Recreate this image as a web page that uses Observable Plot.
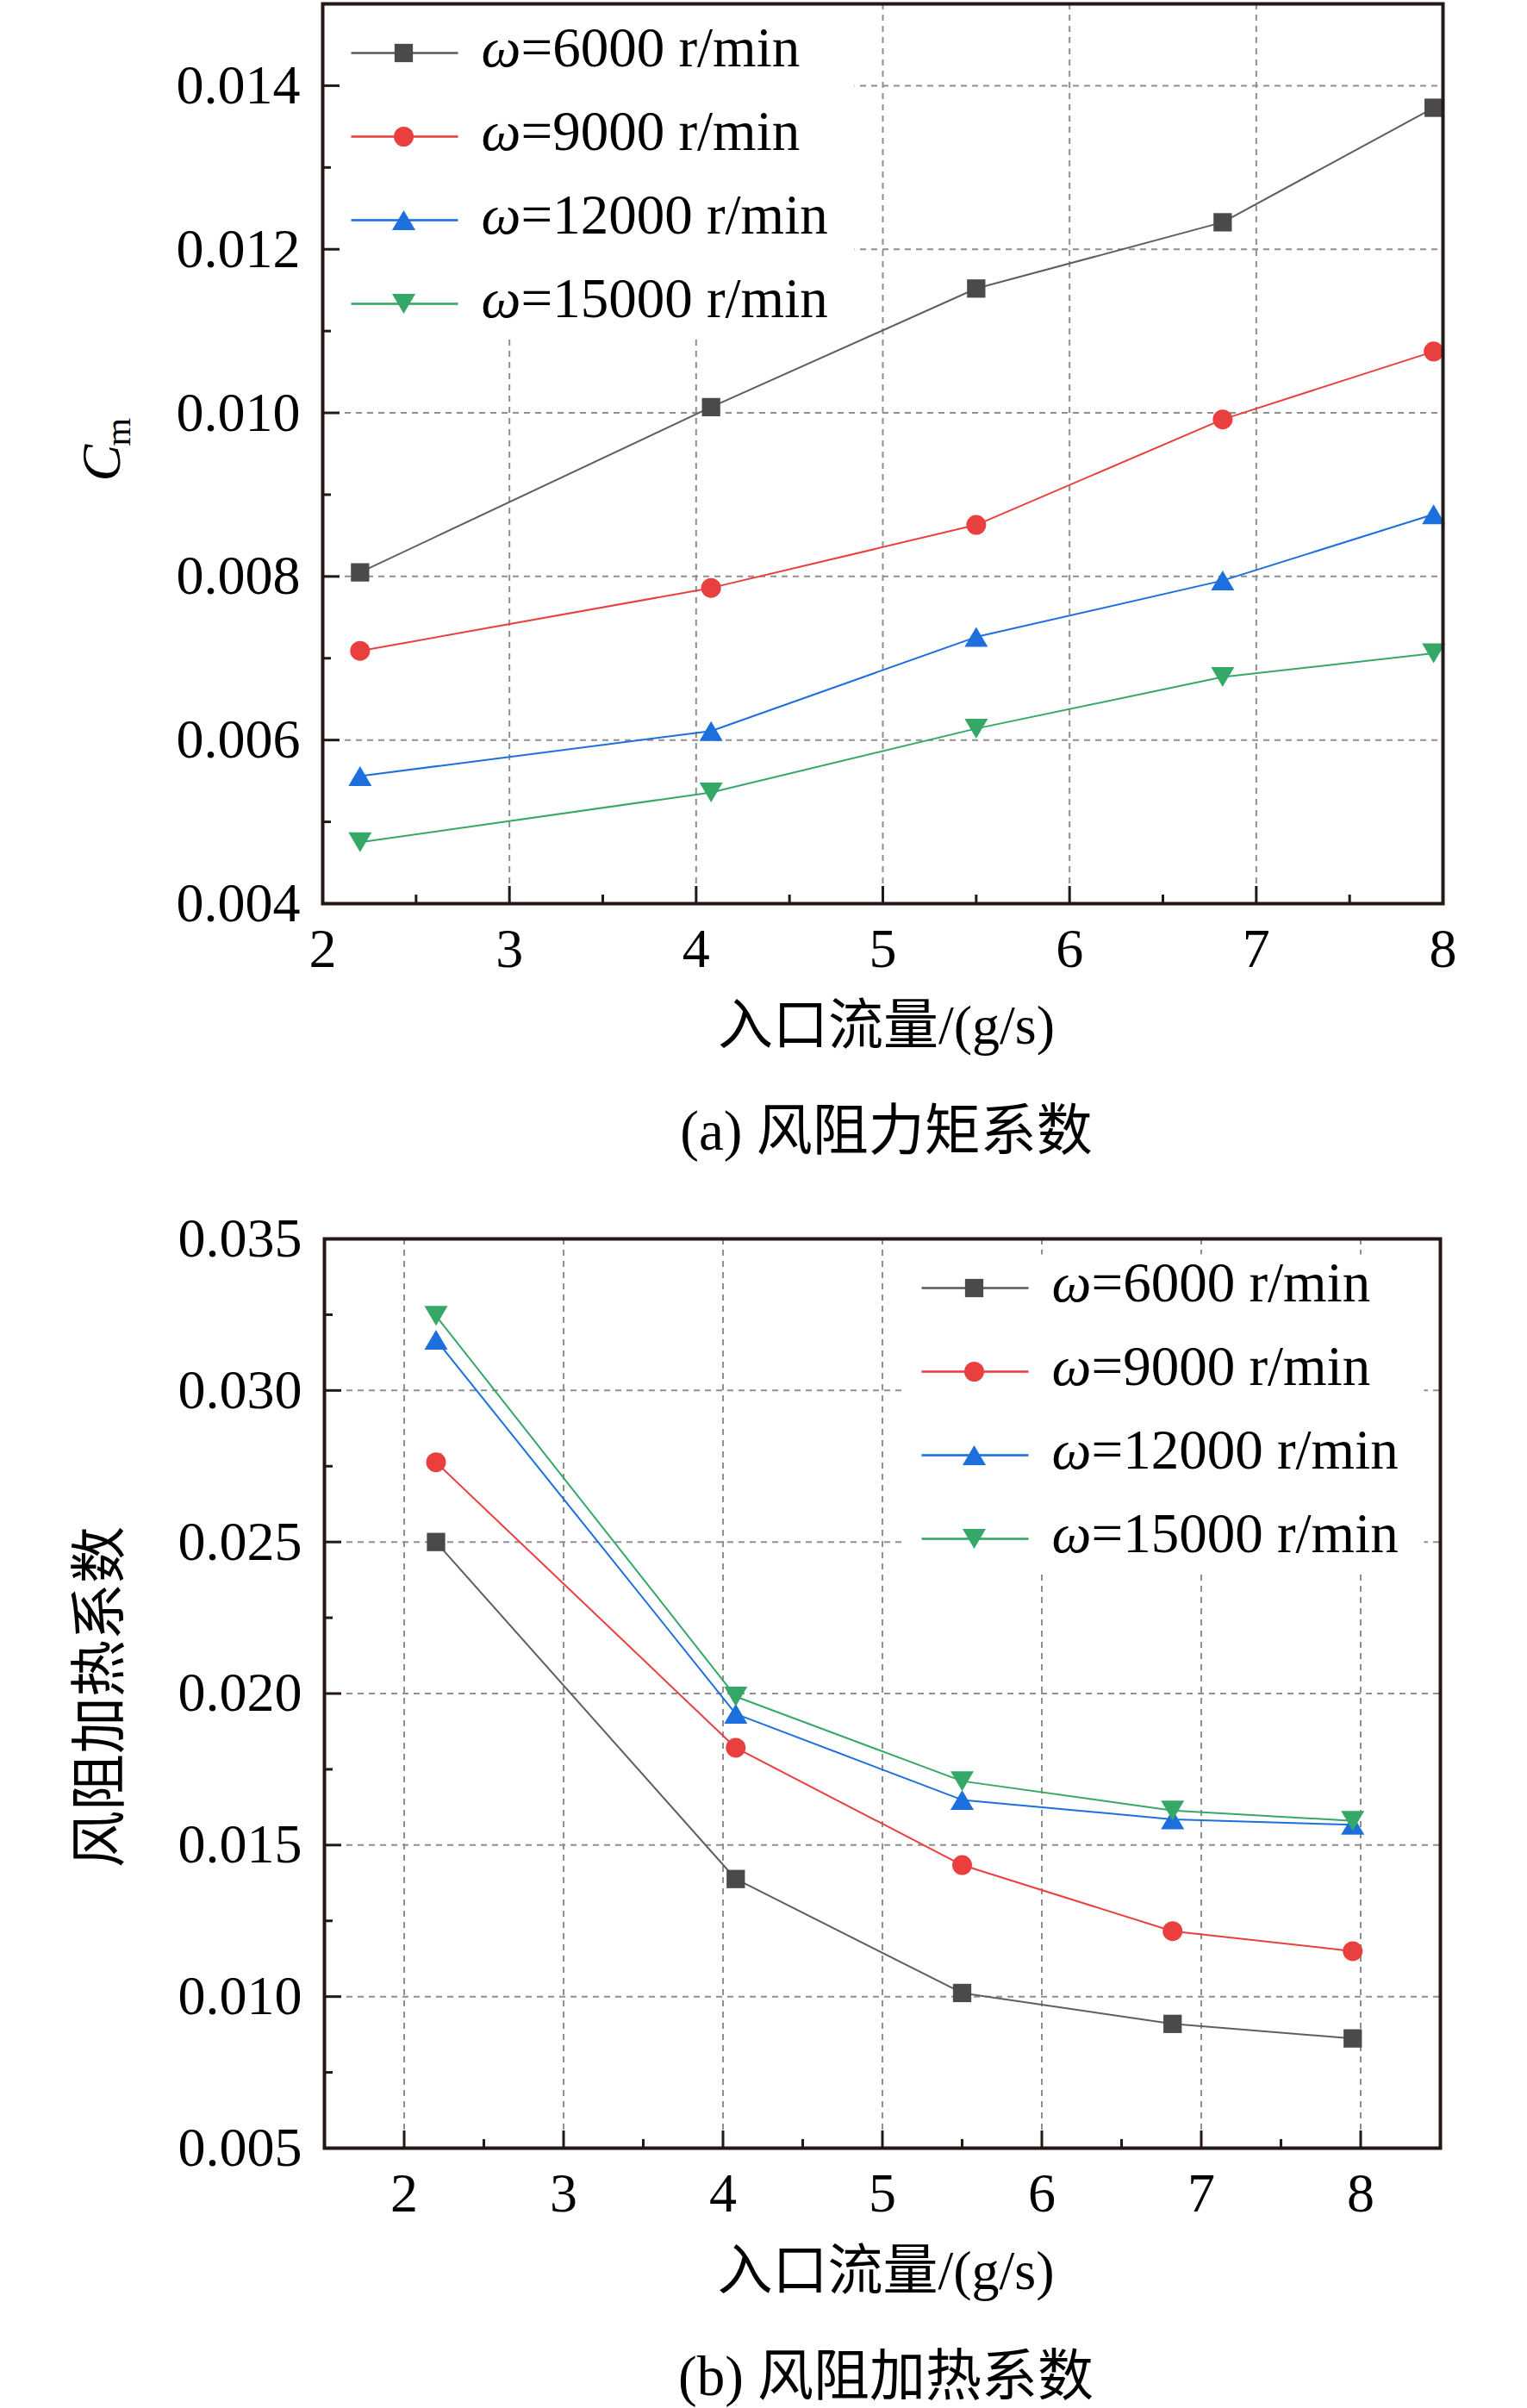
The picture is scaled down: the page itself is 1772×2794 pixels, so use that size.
<!DOCTYPE html>
<html>
<head>
<meta charset="utf-8">
<script src="https://cdn.jsdelivr.net/npm/d3@7"></script>
<script src="https://cdn.jsdelivr.net/npm/@observablehq/plot@0.6"></script>
<style>
  html, body { margin: 0; padding: 0; background: #fff; }
  #chart svg { display: block; }
</style>
</head>
<body>
<div id="chart"></div>
<script>
// ---------------- data ----------------
const flow = [2.2, 4.08, 5.5, 6.82, 7.95];           // 入口流量 (g/s)
const speeds = ["6000", "9000", "12000", "15000"];    // ω (r/min)

// (a) 风阻力矩系数 Cm
const cm6000  = [0.00805, 0.01007, 0.01152, 0.01233, 0.01373];
const cm9000  = [0.00709, 0.00786, 0.00863, 0.00992, 0.01075];
const cm12000 = [0.00556, 0.00611, 0.00726, 0.00795, 0.00876];
const cm15000 = [0.00475, 0.00536, 0.00614, 0.00677, 0.00706];

// (b) 风阻加热系数
const heat6000  = [0.0250, 0.01388, 0.01012, 0.00910, 0.00862];
const heat9000  = [0.02763, 0.01821, 0.01434, 0.01216, 0.01150];
const heat12000 = [0.03167, 0.01933, 0.01649, 0.01585, 0.01567];
const heat15000 = [0.03246, 0.01990, 0.01711, 0.01614, 0.01580];

// tick values
const xTicksA = [2, 3, 4, 5, 6, 7, 8];
const xMinorA = [2.5, 3.5, 4.5, 5.5, 6.5, 7.5];
const yTicksA = [0.004, 0.006, 0.008, 0.010, 0.012, 0.014];
const yMinorA = [0.005, 0.007, 0.009, 0.011, 0.013];
const xGridA = [3, 4, 5, 6, 7];
const yGridA = [0.006, 0.008, 0.010, 0.012, 0.014];

const xTicksB = [2, 3, 4, 5, 6, 7, 8];
const xMinorB = [2.5, 3.5, 4.5, 5.5, 6.5, 7.5];
const yTicksB = [0.005, 0.010, 0.015, 0.020, 0.025, 0.030, 0.035];
const yMinorB = [0.0075, 0.0125, 0.0175, 0.0225, 0.0275, 0.0325];
const xGridB = [2, 3, 4, 5, 6, 7, 8];
const yGridB = [0.010, 0.015, 0.020, 0.025, 0.030];

// ---------------- styles ----------------
const FONT = "'Liberation Serif','Times New Roman','Noto Sans CJK SC',serif";
const colors = ["#4a4a4a", "#e9403f", "#1c6fdd", "#35a867"];
const lineColors = ["#5e5e5e", "#e9403f", "#1c6fdd", "#35a867"];
const AXIS = "#231815";
const GRID = "#8f8f8f";

function triSymbol(up) {
  return {
    draw(ctx, size) {
      const s = Math.sqrt(size / Math.PI);
      const w = 1.35 * s, h = 1.15 * s;
      if (up) {
        ctx.moveTo(0, -h); ctx.lineTo(w, h); ctx.lineTo(-w, h);
      } else {
        ctx.moveTo(0, h); ctx.lineTo(w, -h); ctx.lineTo(-w, -h);
      }
      ctx.closePath();
    }
  };
}
const symbols = ["square", "circle", triSymbol(true), triSymbol(false)];
const radii = [12, 11.5, 10, 10];

function rowsOf(values) {
  return flow.map((f, j) => ({flow: f, value: values[j]}));
}

function panel(o) {
  const innerW = o.width - o.ml - o.mr;
  const innerH = o.height - o.mt - o.mb;
  const marks = [];
  // grid
  marks.push(Plot.ruleX(o.xGrid, {x: d => d, stroke: GRID, strokeWidth: 2, strokeDasharray: "7,6"}));
  marks.push(Plot.ruleY(o.yGrid, {y: d => d, stroke: GRID, strokeWidth: 2, strokeDasharray: "7,6"}));
  // legend background
  marks.push(Plot.frame({fill: "white", stroke: "none",
    insetLeft: o.box[0], insetRight: innerW - o.box[1],
    insetTop: o.box[2], insetBottom: innerH - o.box[3]}));
  // inward ticks
  marks.push(Plot.ruleX(o.xTicks, {x: d => d, insetTop: innerH - 20, stroke: AXIS, strokeWidth: 3}));
  marks.push(Plot.ruleX(o.xMinor, {x: d => d, insetTop: innerH - 10, stroke: AXIS, strokeWidth: 3}));
  marks.push(Plot.ruleY(o.yTicks, {y: d => d, insetRight: innerW - 20, stroke: AXIS, strokeWidth: 3}));
  marks.push(Plot.ruleY(o.yMinor, {y: d => d, insetRight: innerW - 10, stroke: AXIS, strokeWidth: 3}));
  // data
  o.series.forEach((vals, i) => {
    const rows = rowsOf(vals);
    marks.push(Plot.line(rows, {x: "flow", y: "value", stroke: lineColors[i], strokeWidth: 2}));
    marks.push(Plot.dot(rows, {x: "flow", y: "value", symbol: symbols[i], r: radii[i], fill: colors[i], stroke: "none"}));
  });
  // legend entries
  const rowsY = [57, 154, 251, 348];
  speeds.forEach((sp, i) => {
    const ry = rowsY[i] + o.legendDy;
    marks.push(Plot.frame({fill: lineColors[i], stroke: "none",
      insetLeft: o.legendX, insetRight: innerW - (o.legendX + 124),
      insetTop: ry - 1.3, insetBottom: innerH - ry - 1.3}));
    marks.push(Plot.dot([sp], {frameAnchor: "top-left", dx: o.legendX + 61, dy: ry,
      symbol: symbols[i], r: radii[i], fill: colors[i], stroke: "none"}));
    marks.push(Plot.text(["ω"], {text: d => d, frameAnchor: "top-left", dx: o.legendX + 151, dy: ry - 5,
      textAnchor: "start", lineAnchor: "middle", fontStyle: "italic", fontSize: 65, fill: "black"}));
    marks.push(Plot.text([`=${sp} r/min`], {text: d => d, frameAnchor: "top-left", dx: o.legendX + 197, dy: ry - 5,
      textAnchor: "start", lineAnchor: "middle", fontSize: 65, fill: "black"}));
  });
  // frame
  marks.push(Plot.frame({stroke: AXIS, strokeWidth: 4}));
  // axes labels
  marks.push(Plot.axisX({ticks: o.xTicks, tickSize: 0, tickPadding: 28, tickFormat: d => String(d),
    fontSize: 64, label: null, fill: "black"}));
  marks.push(Plot.axisY({ticks: o.yTicks, tickSize: 0, tickPadding: 26, tickFormat: d3.format(".3f"),
    fontSize: 64, label: null, fill: "black"}));
  // titles
  marks.push(...o.yTitle);
  marks.push(Plot.text([o.xTitle], {text: d => d, frameAnchor: "bottom", dx: 4, dy: o.xTitleDy,
    lineAnchor: "bottom", fontSize: 64, fill: "black"}));
  marks.push(Plot.text([o.caption], {text: d => d, frameAnchor: "bottom", dx: 4, dy: o.captionDy,
    lineAnchor: "bottom", fontSize: 65, fill: "black"}));

  return Plot.plot({
    width: o.width, height: o.height,
    marginTop: o.mt, marginBottom: o.mb, marginLeft: o.ml, marginRight: o.mr,
    style: {fontFamily: FONT, background: "white", color: "black", overflow: "visible"},
    x: {domain: o.xDomain, label: null},
    y: {domain: o.yDomain, label: null},
    marks
  });
}

const chart = document.getElementById("chart");

// (a)
chart.appendChild(panel({
  width: 1772, height: 1380, mt: 4, mb: 332, ml: 374, mr: 98,
  xDomain: [2, 8], yDomain: [0.004, 0.015],
  xTicks: xTicksA, xMinor: xMinorA, yTicks: yTicksA, yMinor: yMinorA,
  xGrid: xGridA, yGrid: yGridA,
  series: [cm6000, cm9000, cm12000, cm15000],
  box: [0, 617, 0, 388],
  legendX: 33, legendDy: 0,
  yTitle: [
    Plot.text(["C"], {text: d => d, frameAnchor: "top-left", dx: -236, dy: 554, rotate: -90,
      textAnchor: "start", lineAnchor: "bottom", fontStyle: "italic", fontSize: 64, fill: "black"}),
    Plot.text(["m"], {text: d => d, frameAnchor: "top-left", dx: -224, dy: 513, rotate: -90,
      textAnchor: "start", lineAnchor: "bottom", fontSize: 42, fill: "black"})
  ],
  xTitle: "入口流量/(g/s)", xTitleDy: 162,
  caption: "(a) 风阻力矩系数", captionDy: 285
}));

// (b)
chart.appendChild(panel({
  width: 1772, height: 1414, mt: 57, mb: 302, ml: 376, mr: 101,
  xDomain: [1.5, 8.5], yDomain: [0.005, 0.035],
  xTicks: xTicksB, xMinor: xMinorB, yTicks: yTicksB, yMinor: yMinorB,
  xGrid: xGridB, yGrid: yGridB,
  series: [heat6000, heat9000, heat12000, heat15000],
  box: [670, 1276, 18, 384],
  legendX: 693, legendDy: 0,
  yTitle: [
    Plot.text(["风阻加热系数"], {text: d => d, frameAnchor: "left", dx: -260, dy: 4, rotate: -90,
      textAnchor: "middle", lineAnchor: "middle", fontSize: 66, fill: "black"})
  ],
  xTitle: "入口流量/(g/s)", xTitleDy: 163,
  caption: "(b) 风阻加热系数", captionDy: 286
}));
</script>
</body>
</html>
